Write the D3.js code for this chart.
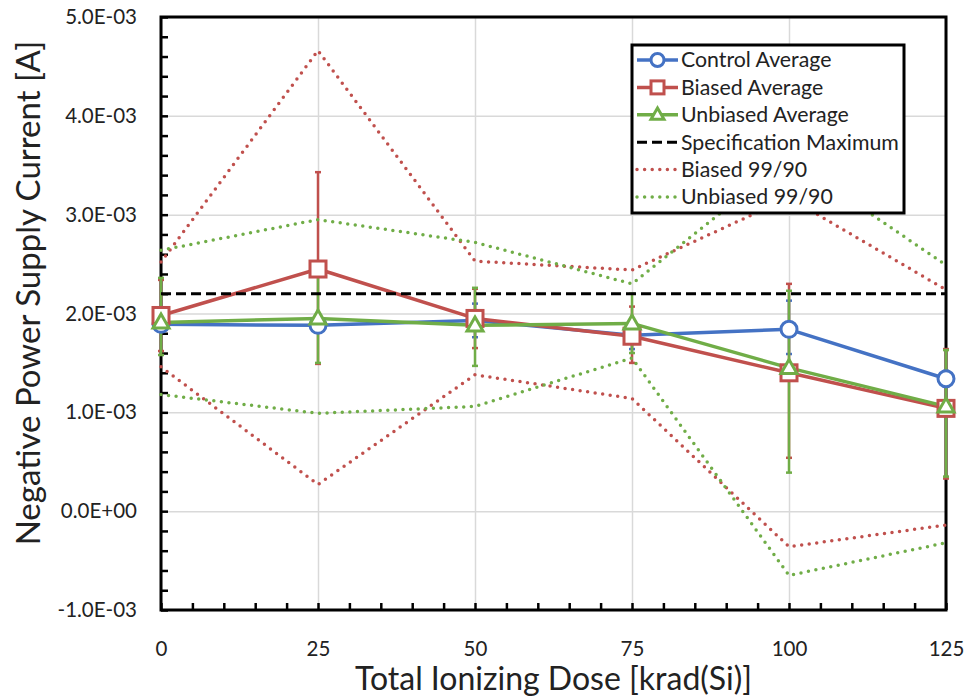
<!DOCTYPE html>
<html>
<head>
<meta charset="utf-8">
<script src="https://cdn.jsdelivr.net/npm/d3@7"></script>
<style>
  body { margin: 0; background: #fff; }
  svg { font-family: Lato, "Open Sans", sans-serif; }
</style>
</head>
<body>
<div id="chart"></div>
<script>
const width = 966;
const height = 698;

// data (A)
const doses = [0, 25, 50, 75, 100, 125];
const controlAvg = [1.89e-3, 1.88e-3, 1.93e-3, 1.78e-3, 1.84e-3, 1.34e-3];
const biasedAvg = [1.98e-3, 2.45e-3, 1.95e-3, 1.77e-3, 1.40e-3, 1.04e-3];
const unbiasedAvg = [1.91e-3, 1.95e-3, 1.88e-3, 1.90e-3, 1.45e-3, 1.06e-3];
const specMax = [2.2e-3, 2.2e-3, 2.2e-3, 2.2e-3, 2.2e-3, 2.2e-3];

// error bar extents (+ / -)
const controlPlus = [0.05e-3, 0.05e-3, 0.17e-3, 0.12e-3, 0.29e-3, 0.08e-3];
const controlMinus = [0.05e-3, 0.05e-3, 0.17e-3, 0.14e-3, 0.25e-3, 0.08e-3];
const biasedPlus = [0.36e-3, 0.98e-3, 0.30e-3, 0.30e-3, 0.90e-3, 0.60e-3];
const biasedMinus = [0.36e-3, 0.96e-3, 0.30e-3, 0.27e-3, 0.86e-3, 0.71e-3];
const unbiasedPlus = [0.45e-3, 0.45e-3, 0.38e-3, 0.30e-3, 0.78e-3, 0.57e-3];
const unbiasedMinus = [0.33e-3, 0.45e-3, 0.41e-3, 0.30e-3, 1.06e-3, 0.71e-3];

// 99/90 tolerance limits
const biasedUpper = [2.52e-3, 4.66e-3, 2.53e-3, 2.44e-3, 3.17e-3, 2.24e-3];
const biasedLower = [1.46e-3, 0.27e-3, 1.38e-3, 1.14e-3, -0.36e-3, -0.14e-3];
const unbiasedUpper = [2.64e-3, 2.95e-3, 2.72e-3, 2.30e-3, 3.57e-3, 2.49e-3];
const unbiasedLower = [1.18e-3, 0.99e-3, 1.06e-3, 1.55e-3, -0.65e-3, -0.32e-3];

const yMajor = [-1e-3, 0, 1e-3, 2e-3, 3e-3, 4e-3, 5e-3];
const yMinor = d3.range(-1, 5.001, 0.2).map(d => d * 1e-3);
const xMinor = d3.range(0, 125.1, 5);

const blue = "#4472C4", red = "#C0504D", green = "#70AD47";

const plot = {left: 161, right: 946, top: 17, bottom: 610};

const x = d3.scaleLinear().domain([0, 125]).range([plot.left, plot.right]);
const y = d3.scaleLinear().domain([-1e-3, 5e-3]).range([plot.bottom, plot.top]);

function sci(v) {
  if (Math.abs(v) < 1e-12) return "0.0E+00";
  let [m, e] = v.toExponential(1).split("e");
  let n = +e;
  return m + "E" + (n < 0 ? "-" : "+") + String(Math.abs(n)).padStart(2, "0");
}

const svg = d3.select("#chart").append("svg")
  .attr("width", width).attr("height", height);

// gridlines
svg.append("g")
  .attr("transform", `translate(${plot.left},0)`)
  .call(d3.axisLeft(y).tickValues(yMajor).tickSize(-(plot.right - plot.left)).tickFormat(""))
  .call(g => g.select(".domain").remove())
  .call(g => g.selectAll("line").attr("stroke", "#d9d9d9").attr("stroke-width", 1.5));
svg.append("g")
  .attr("transform", `translate(0,${plot.bottom})`)
  .call(d3.axisBottom(x).tickValues(doses).tickSize(-(plot.bottom - plot.top)).tickFormat(""))
  .call(g => g.select(".domain").remove())
  .call(g => g.selectAll("line").attr("stroke", "#d9d9d9").attr("stroke-width", 1.5));

// axes with inward ticks
svg.append("g")
  .attr("transform", `translate(${plot.left},0)`)
  .call(d3.axisLeft(y).tickValues(yMinor).tickSize(-7).tickFormat(""))
  .call(g => g.select(".domain").remove())
  .call(g => g.selectAll("line").attr("stroke", "#000").attr("stroke-width", 2.5));
svg.append("g")
  .attr("transform", `translate(${plot.left},0)`)
  .call(d3.axisLeft(y).tickValues(yMajor).tickSize(0).tickPadding(24).tickFormat(sci))
  .call(g => g.select(".domain").remove())
  .call(g => g.selectAll("text").attr("font-size", 20.5).attr("fill", "#222").attr("font-family", "Lato, sans-serif"));

svg.append("g")
  .attr("transform", `translate(0,${plot.bottom})`)
  .call(d3.axisBottom(x).tickValues(xMinor).tickSize(-7).tickFormat(""))
  .call(g => g.select(".domain").remove())
  .call(g => g.selectAll("line").attr("stroke", "#000").attr("stroke-width", 2.5));
svg.append("g")
  .attr("transform", `translate(0,${plot.bottom})`)
  .call(d3.axisBottom(x).tickValues(doses).tickSize(0).tickPadding(31).tickFormat(d3.format("d")))
  .call(g => g.select(".domain").remove())
  .call(g => g.selectAll("text").attr("font-size", 20.5).attr("fill", "#222").attr("font-family", "Lato, sans-serif"));

// frame
svg.append("rect")
  .attr("x", plot.left).attr("y", plot.top)
  .attr("width", plot.right - plot.left).attr("height", plot.bottom - plot.top)
  .attr("fill", "none").attr("stroke", "#000").attr("stroke-width", 3);

// axis titles
svg.append("text")
  .attr("x", (plot.left + plot.right) / 2).attr("y", 690)
  .attr("text-anchor", "middle").attr("font-size", 32).attr("fill", "#222")
  .text("Total Ionizing Dose [krad(Si)]");
svg.append("text")
  .attr("transform", "translate(40,293) rotate(-90)")
  .attr("text-anchor", "middle").attr("font-size", 33).attr("fill", "#222")
  .text("Negative Power Supply Current [A]");

const series = [
  {name: "Control Average", vals: controlAvg, plus: controlPlus, minus: controlMinus, color: blue, marker: "circle"},
  {name: "Biased Average", vals: biasedAvg, plus: biasedPlus, minus: biasedMinus, color: red, marker: "square"},
  {name: "Unbiased Average", vals: unbiasedAvg, plus: unbiasedPlus, minus: unbiasedMinus, color: green, marker: "triangle"}
];

const refLines = [
  {name: "Specification Maximum", vals: specMax, color: "#000", dash: "10 5", cap: "butt", w: 3},
  {name: "Biased 99/90", vals: biasedUpper, color: red, dash: "0 7.6", cap: "round", w: 3.5},
  {name: "Unbiased 99/90", vals: unbiasedUpper, color: green, dash: "0 7.6", cap: "round", w: 3.5}
];
const lowerLines = [
  {vals: biasedLower, color: red},
  {vals: unbiasedLower, color: green}
];

const line = d3.line().x((d, i) => x(doses[i])).y(d => y(d));

// error bars
series.forEach(s => {
  const g = svg.append("g").attr("stroke", s.color).attr("stroke-width", 2.5);
  doses.forEach((dose, i) => {
    const hi = y(s.vals[i] + s.plus[i]), lo = y(s.vals[i] - s.minus[i]), cx = x(dose);
    g.append("line").attr("x1", cx).attr("x2", cx).attr("y1", hi).attr("y2", lo);
    g.append("line").attr("x1", cx - 3).attr("x2", cx + 3).attr("y1", hi).attr("y2", hi);
    g.append("line").attr("x1", cx - 3).attr("x2", cx + 3).attr("y1", lo).attr("y2", lo);
  });
});

// lines
series.forEach(s => {
  svg.append("path").attr("d", line(s.vals))
    .attr("fill", "none").attr("stroke", s.color).attr("stroke-width", 3.5)
    .attr("stroke-linejoin", "round");
});
refLines.forEach(s => {
  svg.append("path").attr("d", line(s.vals))
    .attr("fill", "none").attr("stroke", s.color).attr("stroke-width", s.w)
    .attr("stroke-dasharray", s.dash).attr("stroke-linecap", s.cap);
});
lowerLines.forEach(s => {
  svg.append("path").attr("d", line(s.vals))
    .attr("fill", "none").attr("stroke", s.color).attr("stroke-width", 3.5)
    .attr("stroke-dasharray", "0 7.6").attr("stroke-linecap", "round");
});

function drawMarker(g, type, cx, cy, color, sz) {
  if (type === "circle") {
    g.append("circle").attr("cx", cx).attr("cy", cy).attr("r", sz * 0.5)
      .attr("fill", "#fff").attr("stroke", color).attr("stroke-width", 3);
  } else if (type === "square") {
    g.append("rect").attr("x", cx - sz / 2).attr("y", cy - sz / 2)
      .attr("width", sz).attr("height", sz)
      .attr("fill", "#fff").attr("stroke", color).attr("stroke-width", 3);
  } else {
    const h = sz * 0.87;
    g.append("path")
      .attr("d", `M${cx},${cy - h * 0.6}L${cx + sz / 2},${cy + h * 0.4}L${cx - sz / 2},${cy + h * 0.4}Z`)
      .attr("fill", "#fff").attr("stroke", color).attr("stroke-width", 3)
      .attr("stroke-linejoin", "miter");
  }
}

// markers
series.forEach(s => {
  const g = svg.append("g");
  doses.forEach((dose, i) => drawMarker(g, s.marker, x(dose), y(s.vals[i]), s.color, 16));
});

// legend
const legend = svg.append("g");
legend.append("rect")
  .attr("x", 632).attr("y", 45).attr("width", 272).attr("height", 168)
  .attr("fill", "#fff").attr("stroke", "#000").attr("stroke-width", 3);
const entries = series.concat(refLines);
entries.forEach((s, i) => {
  const cy = 60 + i * 27.4;
  const row = legend.append("g");
  const ln = row.append("line").attr("x1", 637).attr("x2", 678).attr("y1", cy).attr("y2", cy)
    .attr("stroke", s.color);
  if (s.marker) {
    ln.attr("stroke-width", 3.5);
    drawMarker(row, s.marker, 657.5, cy, s.color, 13);
  } else {
    ln.attr("stroke-width", s.w).attr("stroke-dasharray", s.dash).attr("stroke-linecap", s.cap);
  }
  row.append("text").attr("x", 681).attr("y", cy).attr("dy", "0.35em")
    .attr("font-size", 21.3).attr("fill", "#222").text(s.name);
});
</script>
</body>
</html>
